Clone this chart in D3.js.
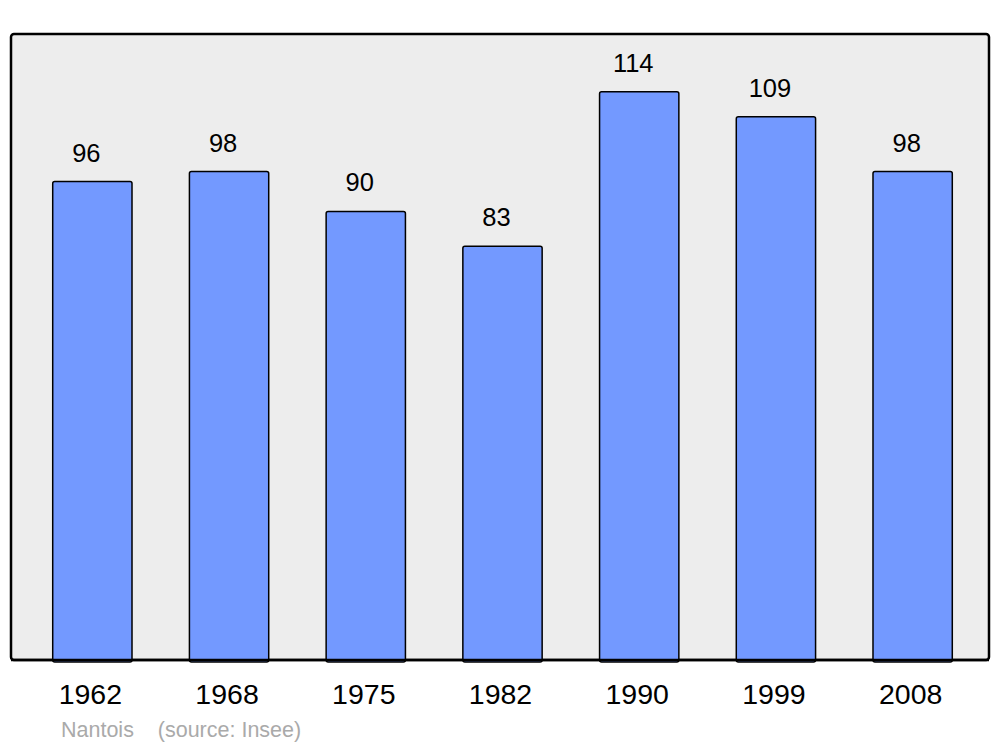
<!DOCTYPE html>
<meta charset="utf-8">
<style>
body { margin: 0; background: #fff; }
text { font-family: "Liberation Sans", Arial, sans-serif; }
.bar { fill: #7399ff; stroke: #000; stroke-width: 1.5; }
.frame { fill: #ededed; stroke: #000; stroke-width: 2.5; }
</style>
<svg width="1000" height="747"></svg>
<script src="https://d3js.org/d3.v7.min.js"></script>
<script>

var years = ["1962", "1968", "1975", "1982", "1990", "1999", "2008"];
var population = [96, 98, 90, 83, 114, 109, 98];

var svg = d3.select("svg"),
    plot = {left: 11, right: 989, top: 34, bottom: 660};

var x = d3.scaleBand().domain(years).range([24, 981]).paddingInner(0.42).paddingOuter(0.21),
    y = d3.scaleLinear().domain([0, 125.6]).range([plot.bottom, plot.top]);

var data = years.map(function(d, i) { return {year: d, value: population[i]}; });

svg.append("rect")
    .attr("class", "frame")
    .attr("x", plot.left)
    .attr("y", plot.top)
    .attr("width", plot.right - plot.left)
    .attr("height", plot.bottom - plot.top)
    .attr("rx", 3);

svg.selectAll(".bar")
  .data(data)
  .enter().append("rect")
    .attr("class", "bar")
    .attr("x", function(d) { return x(d.year); })
    .attr("y", function(d) { return y(d.value); })
    .attr("width", x.bandwidth())
    .attr("height", function(d) { return y(0) - y(d.value) + 2; })
    .attr("rx", 2);

// redraw bottom edge of frame over the bars
svg.append("line")
    .attr("x1", plot.left).attr("x2", plot.right)
    .attr("y1", plot.bottom).attr("y2", plot.bottom)
    .attr("stroke", "#000").attr("stroke-width", 2.5);

svg.selectAll(".value")
  .data(data)
  .enter().append("text")
    .attr("class", "value")
    .attr("x", function(d) { return x(d.year) + x.bandwidth() / 2 - 6; })
    .attr("y", function(d) { return y(d.value) - 20; })
    .attr("text-anchor", "middle")
    .attr("font-size", 25.5)
    .attr("fill", "#000")
    .text(function(d) { return d.value; });

svg.selectAll(".year")
  .data(data)
  .enter().append("text")
    .attr("class", "year")
    .attr("x", function(d) { return x(d.year) + x.bandwidth() / 2 - 2; })
    .attr("y", 704)
    .attr("text-anchor", "middle")
    .attr("font-size", 28.5)
    .attr("fill", "#000")
    .text(function(d) { return d.year; });

svg.append("text")
    .attr("x", 61)
    .attr("y", 737)
    .attr("font-size", 21.5)
    .attr("fill", "#aaaaaa")
    .attr("xml:space", "preserve")
    .text("Nantois    (source: Insee)");

</script>
